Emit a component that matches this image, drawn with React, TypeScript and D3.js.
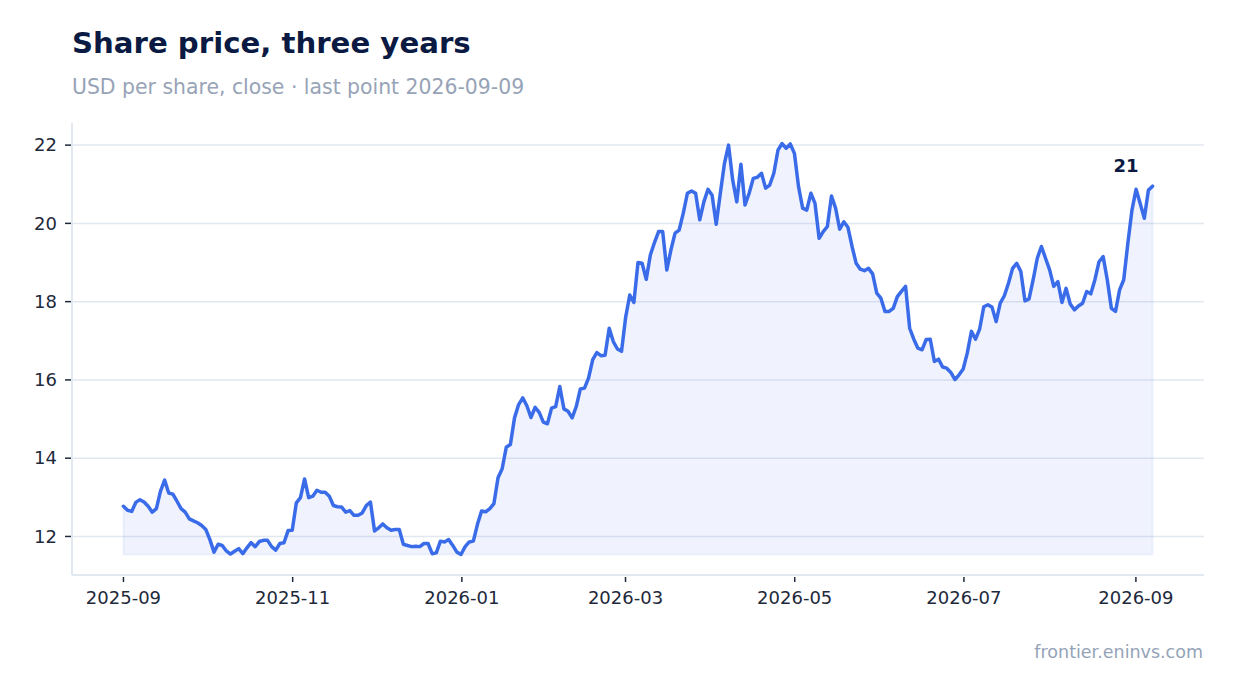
import * as d3 from "d3";

// Close prices, oldest first
const closes: number[] = [
  12.77, 12.67, 12.64, 12.87, 12.94, 12.88, 12.77, 12.62, 12.71, 13.16,
  13.44, 13.11, 13.08, 12.9, 12.71, 12.62, 12.45, 12.4, 12.35, 12.28,
  12.18, 11.92, 11.6, 11.8, 11.77, 11.63, 11.55, 11.62, 11.69, 11.56,
  11.71, 11.84, 11.74, 11.87, 11.9, 11.9, 11.74, 11.65, 11.82, 11.84,
  12.15, 12.16, 12.86, 12.99, 13.47, 12.99, 13.03, 13.18, 13.13, 13.13,
  13.03, 12.79, 12.76, 12.75, 12.62, 12.66, 12.54, 12.54, 12.6, 12.79,
  12.88, 12.14, 12.22, 12.32, 12.22, 12.16, 12.18, 12.18, 11.8, 11.77,
  11.74, 11.75, 11.74, 11.82, 11.82, 11.56, 11.58, 11.88, 11.86, 11.92,
  11.77, 11.6, 11.54, 11.74, 11.86, 11.88, 12.31, 12.65, 12.63, 12.71,
  12.84, 13.5, 13.73, 14.28, 14.35, 15.03, 15.37, 15.54, 15.34, 15.04,
  15.3, 15.17, 14.92, 14.88, 15.28, 15.32, 15.83, 15.26, 15.2, 15.03,
  15.32, 15.77, 15.79, 16.05, 16.52, 16.7, 16.62, 16.63, 17.32, 16.98,
  16.79, 16.73, 17.6, 18.17, 17.98, 19.0, 18.98, 18.57, 19.19, 19.51,
  19.79, 19.79, 18.81, 19.32, 19.75, 19.83, 20.26, 20.77, 20.83, 20.77,
  20.09, 20.55, 20.87, 20.72, 19.98, 20.77, 21.53, 22.0, 21.11, 20.55,
  21.51, 20.47, 20.77, 21.15, 21.18, 21.28, 20.9, 20.98, 21.28, 21.87,
  22.04, 21.92, 22.03, 21.79, 20.94, 20.39, 20.34, 20.77, 20.51, 19.62,
  19.79, 19.92, 20.7, 20.39, 19.85, 20.04, 19.9, 19.41, 18.98, 18.83,
  18.79, 18.85, 18.71, 18.22, 18.09, 17.75, 17.75, 17.83, 18.13, 18.26,
  18.39, 17.32, 17.04, 16.81, 16.77, 17.03, 17.04, 16.47, 16.53, 16.33,
  16.3, 16.19, 16.01, 16.13, 16.28, 16.69, 17.24, 17.04, 17.3, 17.87,
  17.92, 17.86, 17.49, 17.96, 18.15, 18.47, 18.85, 18.98, 18.77, 18.02,
  18.07, 18.56, 19.11, 19.41, 19.11, 18.81, 18.39, 18.51, 17.98, 18.34,
  17.94, 17.79, 17.89, 17.96, 18.26, 18.2, 18.56, 19.02, 19.15, 18.56,
  17.83, 17.75, 18.3, 18.56, 19.49, 20.34, 20.87, 20.51, 20.13, 20.85,
  20.95,
];

const firstDay = Date.UTC(2025, 8, 1);
const lastDay = Date.UTC(2026, 8, 7);

const title = "Share price, three years";
const subtitle = "USD per share, close · last point 2026-09-09";
const source = "frontier.eninvs.com";

const W = 1234;
const H = 693;
const plot = { left: 72, right: 1204, top: 123, bottom: 575 };

const FONT = "'DejaVu Sans', sans-serif";
const LINE = "#3a6cea";
const GRID = "#e2e8f0";
const INK = "#0b1a42";
const MUTED = "#97a3b6";

export default function App() {
  const step = (lastDay - firstDay) / (closes.length - 1);
  const points = closes.map((v, i) => ({ date: new Date(firstDay + i * step), v }));

  const span = lastDay - firstDay;
  const x = d3
    .scaleUtc()
    .domain([new Date(firstDay - span * 0.05), new Date(lastDay + span * 0.05)])
    .range([plot.left, plot.right]);

  const [lo, hi] = d3.extent(closes) as [number, number];
  const pad = (hi - lo) * 0.05;
  const y = d3
    .scaleLinear()
    .domain([lo - pad, hi + pad])
    .range([plot.bottom, plot.top]);

  const line = d3
    .line<{ date: Date; v: number }>()
    .x((d) => x(d.date))
    .y((d) => y(d.v));

  const area = d3
    .area<{ date: Date; v: number }>()
    .x((d) => x(d.date))
    .y0(y(lo))
    .y1((d) => y(d.v));

  const yTicks = y.ticks(6);
  const xTicks = x.ticks(d3.utcMonth.every(2)!);
  const fmt = d3.utcFormat("%Y-%m");

  const last = points[points.length - 1];
  const lx = x(last.date);
  const ly = y(last.v);

  return (
    <svg
      width={W}
      height={H}
      viewBox={`0 0 ${W} ${H}`}
      style={{ position: "absolute", left: 0, top: 0, background: "#fff" }}
      fontFamily={FONT}
    >
      <rect width={W} height={H} fill="#fff" />

      <text x={72} y={53} fontSize={29.2} fontWeight="bold" fill={INK}>
        {title}
      </text>
      <text x={72} y={94} fontSize={20.4} fill={MUTED}>
        {subtitle}
      </text>

      {/* horizontal grid */}
      {yTicks.map((t) => (
        <line
          key={t}
          x1={plot.left}
          x2={plot.right}
          y1={y(t)}
          y2={y(t)}
          stroke={GRID}
          strokeWidth={1.5}
        />
      ))}

      <path
        d={area(points) ?? ""}
        fill={LINE}
        fillOpacity={0.08}
        stroke={LINE}
        strokeOpacity={0.07}
        strokeWidth={2}
      />
      <path
        d={line(points) ?? ""}
        fill="none"
        stroke={LINE}
        strokeWidth={3.5}
        strokeLinejoin="round"
        strokeLinecap="round"
      />

      {/* axes */}
      <line x1={plot.left} x2={plot.left} y1={plot.top} y2={plot.bottom} stroke={GRID} strokeWidth={2} />
      <line x1={plot.left} x2={plot.right} y1={plot.bottom} y2={plot.bottom} stroke={GRID} strokeWidth={2} />

      {yTicks.map((t) => (
        <g key={t}>
          <line x1={65} x2={71} y1={y(t)} y2={y(t)} stroke="#1e293b" strokeWidth={1.5} />
          <text x={57} y={y(t)} dy="0.35em" textAnchor="end" fontSize={18} fill="#1e293b">
            {t}
          </text>
        </g>
      ))}

      {xTicks.map((t) => (
        <g key={t.getTime()}>
          <line x1={x(t)} x2={x(t)} y1={577} y2={582} stroke="#1e293b" strokeWidth={1.5} />
          <text x={x(t)} y={604} textAnchor="middle" fontSize={18} fill="#1e293b">
            {fmt(t)}
          </text>
        </g>
      ))}

      <text x={lx - 14} y={ly - 14} textAnchor="end" fontSize={18} fontWeight="bold" fill={INK}>
        {Math.round(last.v)}
      </text>

      <text x={1203} y={658} textAnchor="end" fontSize={17.5} fill="#94a3b8">
        {source}
      </text>
    </svg>
  );
}
